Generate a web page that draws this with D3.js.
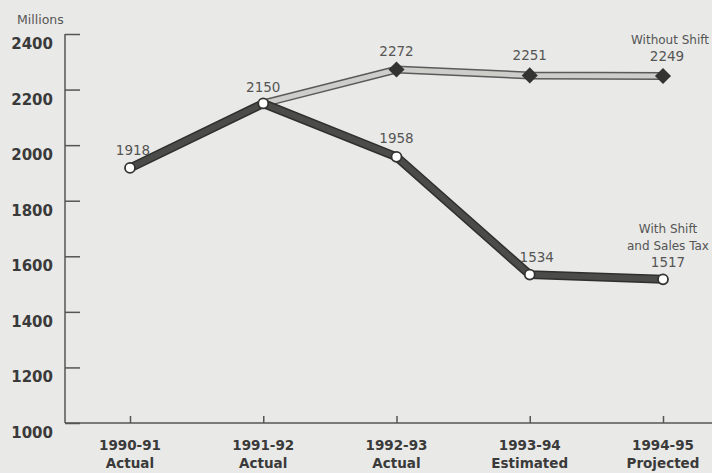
<!DOCTYPE html>
<html>
<head>
<meta charset="utf-8">
<script src="https://cdn.jsdelivr.net/npm/d3@7"></script>
<style>
  body { margin: 0; background: #e9e9e7; }
  svg { display: block; }
</style>
</head>
<body>
<svg id="chart" width="712" height="473"></svg>
<script>
// Data
const years = ["1990-91", "1991-92", "1992-93", "1993-94", "1994-95"];
const status = ["Actual", "Actual", "Actual", "Estimated", "Projected"];
const withShift = [1918, 2150, 1958, 1534, 1517];
const withoutShift = [null, 2150, 2272, 2251, 2249];
const yTicks = [1000, 1200, 1400, 1600, 1800, 2000, 2200, 2400];

const svg = d3.select("#chart");
const font = "'DejaVu Sans', sans-serif";

// Scales
const x = d3.scalePoint()
    .domain(years)
    .range([130, 663]);

const y = d3.scaleLinear()
    .domain([1000, 2400])
    .range([423, 34]);

// Y axis (ticks point inward)
const yAxis = svg.append("g")
    .attr("transform", "translate(65,0)")
    .call(d3.axisRight(y).tickValues(yTicks).tickSize(15).tickFormat(""));
yAxis.select(".domain").attr("stroke", "#555").attr("stroke-width", 1.5).attr("d", `M0,${y(2400)}V${y(1000)}`);
yAxis.selectAll(".tick line").attr("stroke", "#555").attr("stroke-width", 1.5);

svg.append("g").selectAll("text")
    .data(yTicks)
    .enter()
    .append("text")
    .attr("x", 53)
    .attr("y", d => y(d) + 15)
    .attr("text-anchor", "end")
    .style("font-family", font)
    .style("font-weight", "bold")
    .style("font-size", "15px")
    .style("fill", "#3a3a3a")
    .text(d => d);

svg.append("text")
    .attr("x", 17)
    .attr("y", 24)
    .style("font-family", font)
    .style("font-size", "12.5px")
    .style("fill", "#555")
    .text("Millions");

// X axis
const xAxis = svg.append("g")
    .attr("transform", `translate(0,${y(1000)})`)
    .call(d3.axisTop(x).tickSize(7).tickFormat(""));
xAxis.select(".domain").attr("stroke", "#555").attr("stroke-width", 1.5).attr("d", "M65,0H712");
xAxis.selectAll(".tick line").attr("stroke", "#555").attr("stroke-width", 1.5);

const xLabels = svg.append("g").selectAll("text")
    .data(years)
    .enter()
    .append("text")
    .attr("x", d => x(d))
    .attr("text-anchor", "middle")
    .style("font-family", font)
    .style("font-weight", "bold")
    .style("font-size", "13.5px")
    .style("fill", "#3a3a3a");
xLabels.append("tspan").attr("x", d => x(d)).attr("y", 450).text(d => d);
xLabels.append("tspan").attr("x", d => x(d)).attr("y", 468).text((d, i) => status[i]);

// Lines
const line = d3.line()
    .defined(d => d.v != null)
    .x(d => x(d.year))
    .y(d => y(d.v));

const withoutData = years.map((yr, i) => ({ year: yr, v: withoutShift[i] }));
const withData = years.map((yr, i) => ({ year: yr, v: withShift[i] }));

function drawBand(data, outer, inner, w) {
    svg.append("path").datum(data)
        .attr("d", line).attr("fill", "none")
        .attr("stroke", outer).attr("stroke-width", w)
        .attr("stroke-linejoin", "round");
    svg.append("path").datum(data)
        .attr("d", line).attr("fill", "none")
        .attr("stroke", inner).attr("stroke-width", w - 3)
        .attr("stroke-linejoin", "round");
}

drawBand(withoutData, "#5a5a58", "#cdcdca", 8);
drawBand(withData, "#2f2f2d", "#4b4b48", 9);

// Diamonds on the "without shift" series (skip shared point)
svg.append("g").selectAll("path")
    .data(withoutData.filter((d, i) => d.v != null && i > 1))
    .enter()
    .append("path")
    .attr("d", d3.symbol().type(d3.symbolDiamond2).size(165))
    .attr("transform", d => `translate(${x(d.year)},${y(d.v)})`)
    .attr("fill", "#333331");

// Circles on the "with shift" series
svg.append("g").selectAll("circle")
    .data(withData)
    .enter()
    .append("circle")
    .attr("cx", d => x(d.year))
    .attr("cy", d => y(d.v))
    .attr("r", 5)
    .attr("fill", "#fff")
    .attr("stroke", "#333")
    .attr("stroke-width", 1.8);

// Value labels
const valueLabels = [
    { year: "1990-91", v: 1918, dx: 3, dy: -13 },
    { year: "1991-92", v: 2150, dx: 0, dy: -11 },
    { year: "1992-93", v: 2272, dx: 0, dy: -14 },
    { year: "1992-93", v: 1958, dx: 0, dy: -14 },
    { year: "1993-94", v: 2251, dx: 0, dy: -15 },
    { year: "1994-95", v: 2249, dx: 4, dy: -15 },
    { year: "1993-94", v: 1534, dx: 7, dy: -13 },
    { year: "1994-95", v: 1517, dx: 5, dy: -12 }
];

svg.append("g").selectAll("text")
    .data(valueLabels)
    .enter()
    .append("text")
    .attr("x", d => x(d.year) + d.dx)
    .attr("y", d => y(d.v) + d.dy)
    .attr("text-anchor", "middle")
    .style("font-family", font)
    .style("font-size", "13.5px")
    .style("fill", "#555")
    .text(d => d.v);

// Series notes
const notes = [
    { text: "Without Shift", x: x("1994-95") + 7, y: y(2249) - 32 },
    { text: "With Shift", x: x("1994-95") + 5, y: y(1517) - 46 },
    { text: "and Sales Tax", x: x("1994-95") + 5, y: y(1517) - 29 }
];
svg.append("g").selectAll("text")
    .data(notes)
    .enter()
    .append("text")
    .attr("x", d => d.x)
    .attr("y", d => d.y)
    .attr("text-anchor", "middle")
    .style("font-family", font)
    .style("font-size", "12px")
    .style("fill", "#555")
    .text(d => d.text);
</script>
</body>
</html>
